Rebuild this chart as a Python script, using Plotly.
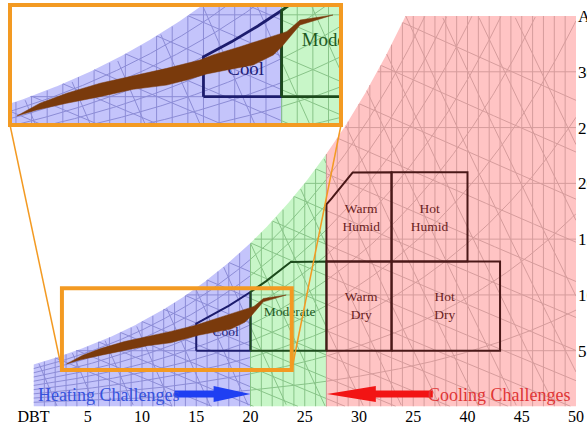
import numpy as np
import plotly.graph_objects as go

# ---------------- data ----------------
x_ticks = [0, 5, 10, 15, 20, 25, 30, 35, 40, 45, 50]
x_tick_labels = ["DBT", "5", "10", "15", "20", "25", "30", "25", "40", "45", "50"]
y_ticks = [5, 10, 15, 20, 25, 30, 35]
y_tick_labels = ["5", "10", "15", "20", "25", "30", "AH"]

band_edges = [0, 20, 27, 50]           # heating / moderate / cooling bands (DBT)
band_fill = ["#c4c4fb", "#c8f6c8", "#ffc4c4"]
band_grid = ["#8c8cd6", "#88c488", "#d69c9c"]

zone_names = ["Cool", "Moderate", "Warm<br>Dry", "Hot<br>Dry", "Warm<br>Humid", "Hot<br>Humid"]
zone_tmin = [15, 20, 27, 33, 27, 33]
zone_tmax = [20, 27, 33, 43, 33, 40]
zone_wmin = [5, 5, 5, 5, 13, 13]
zone_wmax = [35, 13, 13, 13, 21, 21]
zone_rhcap = [0.7, 0.7, 1.0, 1.0, 0.8, 1.0]
zone_label_T = [17.7, 23.6, 30.2, 37.9, 30.2, 36.5]
zone_label_w = [6.6, 8.4, 8.95, 8.95, 16.85, 16.85]
zone_line = ["#1c1c6e", "#1c4a1c", "#4a1818", "#4a1818", "#4a1818", "#4a1818"]
zone_text = ["#1c1c78", "#1f5a1f", "#6a2222", "#6a2222", "#6a2222", "#6a2222"]

# climate cloud (DBT, g/kg) outline
climate_T = [3.05, 4.33, 6.25, 8.38, 10.51, 12.65, 13.93, 15.21, 16.49, 18.19, 19.47,
             20.01, 20.54, 21.18, 23.29, 21.18, 20.33, 19.05, 17.34, 15.61, 14.78,
             12.65, 10.51, 8.38, 6.25, 4.54]
climate_w = [3.82, 4.19, 4.60, 5.00, 5.45, 5.71, 6.02, 6.39, 6.63, 6.94, 7.55,
             8.05, 8.66, 9.38, 9.99, 9.68, 8.97, 8.57, 8.05, 7.55, 7.24,
             6.73, 6.26, 5.82, 5.21, 4.60]

zoom_T = [2.62, 23.8]
zoom_w = [3.27, 10.6]

arrow_tail_T = [13.0, 36.8]
arrow_head_T = [20.0, 27.05]
arrow_w = 1.12
arrow_colors = ["#1f3ff2", "#f21414"]
arrow_text = ["Heating Challenges", "Cooling Challenges"]
arrow_text_colors = ["#3552dc", "#e03636"]

W_MAX = 35.0
T_MAX = 50.0
P = 101.325

# ---------------- psychrometrics ----------------
def psat(T):
    return 0.61094 * np.exp(17.625 * T / (T + 243.04))

def wsat(T):
    p = psat(T)
    return 622.0 * p / (P - p)

def wtop(T):
    return np.minimum(wsat(T), W_MAX)

def segments(T, w, tlo, thi):
    T = np.asarray(T, float); w = np.asarray(w, float)
    m = (T >= tlo - 1e-9) & (T <= thi + 1e-9) & (T >= 0) & (T <= T_MAX) & (w >= -1e-9) & (w <= wtop(T) + 1e-9)
    xs, ys = [], []
    idx = np.where(m)[0]
    if len(idx) == 0:
        return xs, ys
    br = np.where(np.diff(idx) > 1)[0]
    starts = np.r_[idx[0], idx[br + 1]]
    ends = np.r_[idx[br], idx[-1]]
    for s, e in zip(starts, ends):
        if e > s:
            xs += list(np.round(T[s:e + 1], 3)) + [None]
            ys += list(np.round(w[s:e + 1], 3)) + [None]
    return xs, ys

N = 600
Tg = np.linspace(0, T_MAX, N)
grid_lines = []
for k in range(1, 50):
    ww = np.linspace(0, W_MAX, N)
    grid_lines.append((np.full(N, float(k)), ww))
for c in range(5, 35, 5):
    grid_lines.append((Tg, np.full(N, float(c))))
for rh in np.arange(0.1, 0.95, 0.1):
    grid_lines.append((Tg, rh * wsat(Tg)))
for twb in range(2, 36, 2):
    ws = wsat(twb) / 1000.0
    w = ((2501 - 2.326 * twb) * ws - 1.006 * (Tg - twb)) / (2501 + 1.86 * Tg - 4.186 * twb) * 1000.0
    grid_lines.append((Tg, w))
for v in np.arange(0.78, 0.96, 0.01):
    w = (v * P / (0.287042 * (Tg + 273.15)) - 1) / 1.6078 * 1000.0
    grid_lines.append((Tg, w))

fig = go.Figure()

def add_chart(xa, ya, font_scale, lw):
    for i in range(3):
        a, b = band_edges[i], band_edges[i + 1]
        tt = np.linspace(a, b, 200)
        px = [a, b] + list(tt[::-1]) + [a]
        py = [0, 0] + list(wtop(tt[::-1])) + [0]
        fig.add_trace(go.Scatter(x=px, y=py, xaxis=xa, yaxis=ya, mode="lines", fill="toself",
                                 fillcolor=band_fill[i], line=dict(width=0), hoverinfo="skip"))
    for i in range(3):
        a, b = band_edges[i], band_edges[i + 1]
        xs, ys = [], []
        for T, w in grid_lines:
            sx, sy = segments(T, w, a, b)
            xs += sx; ys += sy
        fig.add_trace(go.Scatter(x=xs, y=ys, xaxis=xa, yaxis=ya, mode="lines",
                                 line=dict(color=band_grid[i], width=1), hoverinfo="skip"))
    for j in range(len(zone_names)):
        tt = np.linspace(zone_tmin[j], zone_tmax[j], 120)
        top = np.minimum(zone_wmax[j], zone_rhcap[j] * wsat(tt))
        px = [zone_tmin[j], zone_tmax[j]] + list(tt[::-1]) + [zone_tmin[j]]
        py = [zone_wmin[j], zone_wmin[j]] + list(top[::-1]) + [zone_wmin[j]]
        fig.add_trace(go.Scatter(x=px, y=py, xaxis=xa, yaxis=ya, mode="lines",
                                 line=dict(color=zone_line[j], width=lw), hoverinfo="skip"))
    for j in range(len(zone_names)):
        fig.add_trace(go.Scatter(x=[zone_label_T[j]], y=[zone_label_w[j]], xaxis=xa, yaxis=ya,
                                 mode="text", text=[zone_names[j]],
                                 textfont=dict(family="Liberation Serif", size=13.5 * font_scale,
                                               color=zone_text[j]),
                                 hoverinfo="skip"))
    fig.add_trace(go.Scatter(x=climate_T + [climate_T[0]], y=climate_w + [climate_w[0]],
                             xaxis=xa, yaxis=ya, mode="lines", fill="toself",
                             fillcolor="#7a3a0c", line=dict(color="#7a3a0c", width=0.5),
                             hoverinfo="skip"))

add_chart("x", "y", 1.0, 2)
add_chart("x2", "y2", 1.4, 2.8)

W, H = 587, 425
main_l, main_r, main_t, main_b = 33.5, 576, 16, 406.5
ins_l, ins_r, ins_t, ins_b = 10, 341, 5, 125

fig.update_layout(
    template="none",
    width=W, height=H, margin=dict(l=0, r=0, t=0, b=0, autoexpand=False),
    paper_bgcolor="white", plot_bgcolor="white", showlegend=False,
    xaxis=dict(domain=[main_l / W, main_r / W], range=[0, T_MAX], showgrid=False, zeroline=False,
               showline=False, ticks="", tickvals=x_ticks, ticktext=x_tick_labels, automargin=False,
               tickfont=dict(family="Liberation Serif", size=16, color="black"), anchor="y",
               ticklabelstandoff=-2, fixedrange=True),
    yaxis=dict(domain=[1 - main_b / H, 1 - main_t / H], range=[0, W_MAX], showgrid=False,
               zeroline=False, showline=False, ticks="", side="right", tickvals=y_ticks, automargin=False,
               ticktext=y_tick_labels, tickfont=dict(family="Liberation Serif", size=17, color="black"),
               ticklabelstandoff=1, anchor="x", fixedrange=True),
    xaxis2=dict(domain=[ins_l / W, ins_r / W], range=zoom_T, visible=False, anchor="y2",
                fixedrange=True, automargin=False),
    yaxis2=dict(domain=[1 - ins_b / H, 1 - ins_t / H], range=zoom_w, visible=False, anchor="x2",
                fixedrange=True, automargin=False),
)

shaft_h, head_h = 0.31, 0.72
head_len = [3.4, 4.5]
for i in range(2):
    t0, t1 = arrow_tail_T[i], arrow_head_T[i]
    d = 1 if t1 > t0 else -1
    hb = t1 - d * head_len[i]
    y = arrow_w
    path = (f"M{t0},{y + shaft_h} L{hb},{y + shaft_h} L{hb},{y + head_h} L{t1},{y} "
            f"L{hb},{y - head_h} L{hb},{y - shaft_h} L{t0},{y - shaft_h} Z")
    fig.add_shape(type="path", path=path, xref="x", yref="y", fillcolor=arrow_colors[i],
                  line=dict(width=0), layer="above")

fig.add_annotation(x=0.2, y=1.03, xref="x", yref="y", text=arrow_text[0], showarrow=False,
                   xanchor="left", yanchor="middle",
                   font=dict(family="Liberation Serif", size=18, color=arrow_text_colors[0]))
fig.add_annotation(x=49.75, y=1.03, xref="x", yref="y", text=arrow_text[1], showarrow=False,
                   xanchor="right", yanchor="middle",
                   font=dict(family="Liberation Serif", size=18, color=arrow_text_colors[1]))

orange = "#f39a22"
def px2paper(x, y):
    return x / W, 1 - y / H

sx0, sy0 = (zoom_T[0] / T_MAX) * (main_r - main_l) + main_l, main_b - zoom_w[1] / W_MAX * (main_b - main_t)
sx1, sy1 = (zoom_T[1] / T_MAX) * (main_r - main_l) + main_l, main_b - zoom_w[0] / W_MAX * (main_b - main_t)
for (x0, y0, x1, y1) in [(ins_l, ins_t, ins_r, ins_b), (sx0, sy0, sx1, sy1)]:
    a0, b0 = px2paper(x0, y0); a1, b1 = px2paper(x1, y1)
    fig.add_shape(type="rect", xref="paper", yref="paper", x0=a0, y0=b1, x1=a1, y1=b0,
                  line=dict(color=orange, width=4), layer="above")
for (xa_, ya_, xb_, yb_) in [(ins_l, ins_b, sx0, sy1), (ins_r, ins_b, sx1, sy1)]:
    a0, b0 = px2paper(xa_, ya_); a1, b1 = px2paper(xb_, yb_)
    fig.add_shape(type="line", xref="paper", yref="paper", x0=a0, y0=b0, x1=a1, y1=b1,
                  line=dict(color=orange, width=1.5), layer="above")

fig.write_html("out.html")
